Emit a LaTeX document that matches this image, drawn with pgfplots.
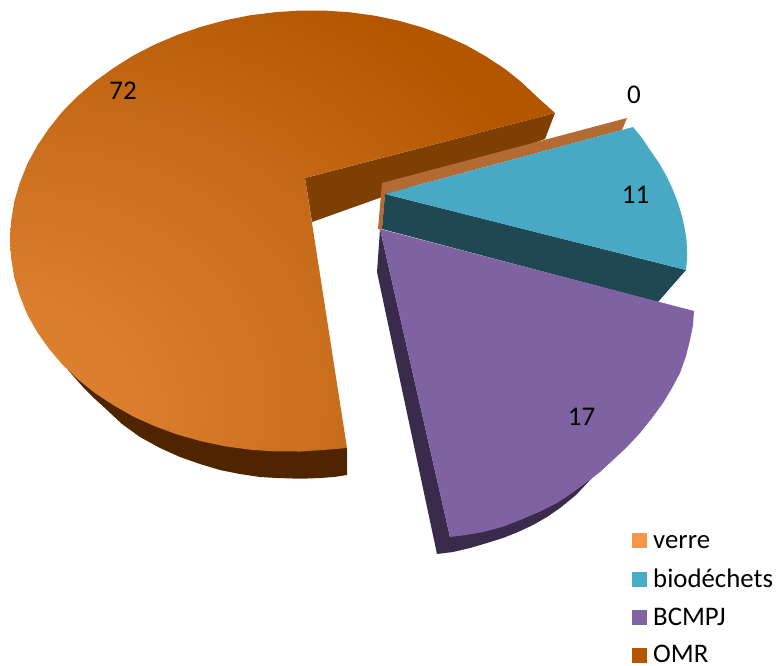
\documentclass[border=0pt]{standalone}
\usepackage{fontspec}
\setmainfont{Carlito}
\usepackage{pgfplots}
\pgfplotsset{compat=1.18}
\definecolor{omrlight}{HTML}{DB7F2E}
\definecolor{omrmid}{HTML}{C76C1B}
\definecolor{omrdark}{HTML}{B45600}
\pgfdeclareradialshading{omrshade}{\pgfpoint{-33bp}{-25bp}}{
  color(0bp)=(omrlight); color(14bp)=(omrlight); color(30bp)=(omrmid); color(46bp)=(omrdark); color(100bp)=(omrdark)}
\tikzset{
  lab/.style={font=\fontsize{27}{27}\selectfont, anchor=base, inner sep=0pt, text=black},
  leg/.style={font=\fontsize{26.8}{26.8}\selectfont, anchor=base west, inner sep=0pt, text=black},
}
\begin{document}
\begin{tikzpicture}
\begin{axis}[
  scale only axis, width=778pt, height=665pt,
  xmin=0, xmax=778, ymin=0, ymax=665, y dir=reverse,
  hide axis, clip=false,
  every axis plot/.append style={draw=none, mark=none, line width=0pt},
]
\addplot[draw=none] coordinates {(0,0) (778,665)};
% OMR, side walls
\addplot[fill={rgb,255:red,79;green,37;blue,0}] coordinates {
  (347,448) (347,475) (334,477) (320,478) (307,478.5) (293,478.5) (277,478) (260,477) (240,474) (220,470) (200,464) (180,457) (160,448) (140,437) (122,424) (107,410) (95,399) (83,387) (75,378) (68,370) (200,420)};
\addplot[fill={rgb,255:red,126;green,63;blue,3}] coordinates {(305,178) (555,113) (545,139) (312,222)};
% OMR, top
\addplot[shade, shading=omrshade] coordinates {
  (305,178) (555,113) (537.5,97.3) (522,82.6) (505,68.9) (486,56.5) (466.5,45.4) (445,35.7) (422.7,27.5) (399,20.8) (375,15.7) (350,12.3) (325,10.6) (300,10.5) (275,12.2) (250,15.3) (225,20.3) (201,26.8) (177.3,34.9) (155,44.4) (133.5,55.4) (114,67.7) (95,81.3) (78,95.9) (62.5,111.5) (49,128.3) (37.3,145.6) (27.4,163.8) (20,182.3) (14.4,201) (11.2,220.5) (10,239.7) (11.2,258.9) (14.4,278) (20,296.5) (27.4,314.6) (37.3,332.2) (49,348.8) (62.5,364.7) (78,379.4) (95,393.1) (114,405.5) (133.5,416.6) (155,426.3) (177.3,434.5) (201,441.2) (225,446.3) (250,449.7) (275,451.4) (300,451.5) (325,449.8) (347,448)};
% verre
\addplot[fill={rgb,255:red,179;green,106;blue,51}] coordinates {(382,183) (627,118) (622,130) (385,194) (382,229) (378,229)};
% biodechets
\addplot[fill={rgb,255:red,31;green,72;blue,83}] coordinates {(385,194) (686,270) (658,302) (382,229)};
\addplot[fill={rgb,255:red,72;green,169;blue,197}] coordinates {
  (385,194) (633,127) (642,138) (650,150) (659,163) (667,177) (673,190) (678,203) (682,216) (685,230) (686.5,240) (687,250) (687,260) (686,270)};
% BCMPJ
\addplot[fill={rgb,255:red,58;green,42;blue,76}] coordinates {
  (380,229) (377,272) (437,554) (453,552) (470,548) (487,543) (503,538) (518,532) (533,525) (547,517) (560,508) (576,495) (592,478) (450,537)};
\addplot[fill={rgb,255:red,127;green,98;blue,161}] coordinates {
  (380,229) (694,311) (693,325) (690,340) (686,356) (680,373) (672,388) (663,403) (652,418) (640,433) (627,447) (613,460) (600,472) (587,482) (572,493) (557,503) (539,512) (520,520) (502,527) (483,532) (466,535) (450,537)};
% legend keys
\addplot[fill={rgb,255:red,247;green,150;blue,70}] coordinates {(632,533) (647,533) (647,548) (632,548)};
\addplot[fill={rgb,255:red,75;green,172;blue,198}] coordinates {(632,572) (647,572) (647,587) (632,587)};
\addplot[fill={rgb,255:red,128;green,100;blue,162}] coordinates {(632,610) (647,610) (647,625) (632,625)};
\addplot[fill=omrdark] coordinates {(632,648) (647,648) (647,663) (632,663)};
% data labels
\node[lab] at (axis cs:123,99) {72};
\node[lab] at (axis cs:634,103) {0};
\node[lab] at (axis cs:635.5,203) {11};
\node[lab] at (axis cs:581.5,425) {17};
% legend text
\node[leg] at (axis cs:653,548) {verre};
\node[leg] at (axis cs:653,587) {biodéchets};
\node[leg] at (axis cs:653,625) {BCMPJ};
\node[leg] at (axis cs:653,662) {OMR};
\end{axis}
\end{tikzpicture}
\end{document}
